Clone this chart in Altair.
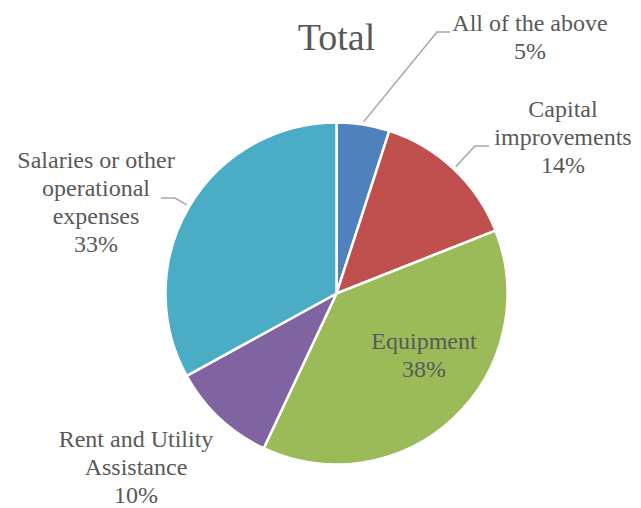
import math
import altair as alt
import pandas as pd

# ---- data ----
categories = ["All of the above", "Capital improvements", "Equipment",
              "Rent and Utility Assistance", "Salaries or other operational expenses"]
label_text = ["All of the above\n5%", "Capital\nimprovements\n14%", "Equipment\n38%",
              "Rent and Utility\nAssistance\n10%", "Salaries or other\noperational\nexpenses\n33%"]
values = [5, 14, 38, 10, 33]
colors = ["#4F81BD", "#C0504D", "#9BBB59", "#8064A2", "#4BACC6"]

# ---- layout ----
W, H = 625, 500
CX, CY = 328.5, 285.5
R = 171
# offsets (from pie centre) of the first line of each label
label_off = [(193.5, -269.5), (226.5, -183.5), (87.5, 48.5), (-200.5, 146.5), (-240.5, -132.5)]
# leader lines: (elbow offset, end offset) or None
leaders = [((100.5, -261.5), (113.5, -261.5)),
           ((138.5, -147.5), (152.5, -147.5)),
           None, None,
           ((-161.5, -95.5), (-175.5, -95.5))]

FONT = "Liberation Serif"
TXT = "#595959"

pie_df = pd.DataFrame({"cat": categories, "value": values, "order": range(len(values))})

total = sum(values)
cum = 0
lab_rows, line_rows = [], []
for i, v in enumerate(values):
    mid = (cum + v / 2) / total * 2 * math.pi
    cum += v
    lab_rows.append({"cat": categories[i], "text": label_text[i],
                     "x": CX + label_off[i][0], "y": CY + label_off[i][1]})
    if leaders[i]:
        sx = CX + (R + 3) * math.sin(mid)
        sy = CY - (R + 3) * math.cos(mid)
        pts = [(sx, sy), (CX + leaders[i][0][0], CY + leaders[i][0][1]),
               (CX + leaders[i][1][0], CY + leaders[i][1][1])]
        for k, (px, py) in enumerate(pts):
            line_rows.append({"cat": categories[i], "step": k, "x": px, "y": py})
lab_df = pd.DataFrame(lab_rows)
line_df = pd.DataFrame(line_rows)

xs = alt.Scale(domain=[0, W], range=[0, W])
ys = alt.Scale(domain=[0, H], range=[0, H])

pie = alt.Chart(pie_df).mark_arc(outerRadius=R, stroke="white", strokeWidth=2.5).encode(
    theta=alt.Theta("value:Q", stack=True),
    order=alt.Order("order:Q"),
    color=alt.Color("cat:N", scale=alt.Scale(domain=categories, range=colors), legend=None),
    x=alt.value(CX), y=alt.value(CY),
)

lines = alt.Chart(line_df).mark_line(color="#A6A6A6", strokeWidth=1.5).encode(
    x=alt.X("x:Q", scale=xs, axis=None),
    y=alt.Y("y:Q", scale=ys, axis=None),
    detail="cat:N",
    order="step:Q",
)

labels = alt.Chart(lab_df).mark_text(
    font=FONT, fontSize=24, color=TXT, lineBreak="\n", lineHeight=28,
    align="center", baseline="middle",
).encode(
    x=alt.X("x:Q", scale=xs, axis=None),
    y=alt.Y("y:Q", scale=ys, axis=None),
    text="text:N",
)

title = alt.Chart(pd.DataFrame({"t": ["Total"]})).mark_text(
    font=FONT, fontSize=38, color=TXT, align="center", baseline="middle",
).encode(text="t:N", x=alt.value(CX), y=alt.value(31))

chart = alt.layer(pie, lines, labels, title).properties(
    width=W, height=H, padding=0, autosize=alt.AutoSizeParams(type="none"),
).configure_view(stroke=None)

chart.save("out.html", embed_options={"renderer": "svg", "actions": False})
